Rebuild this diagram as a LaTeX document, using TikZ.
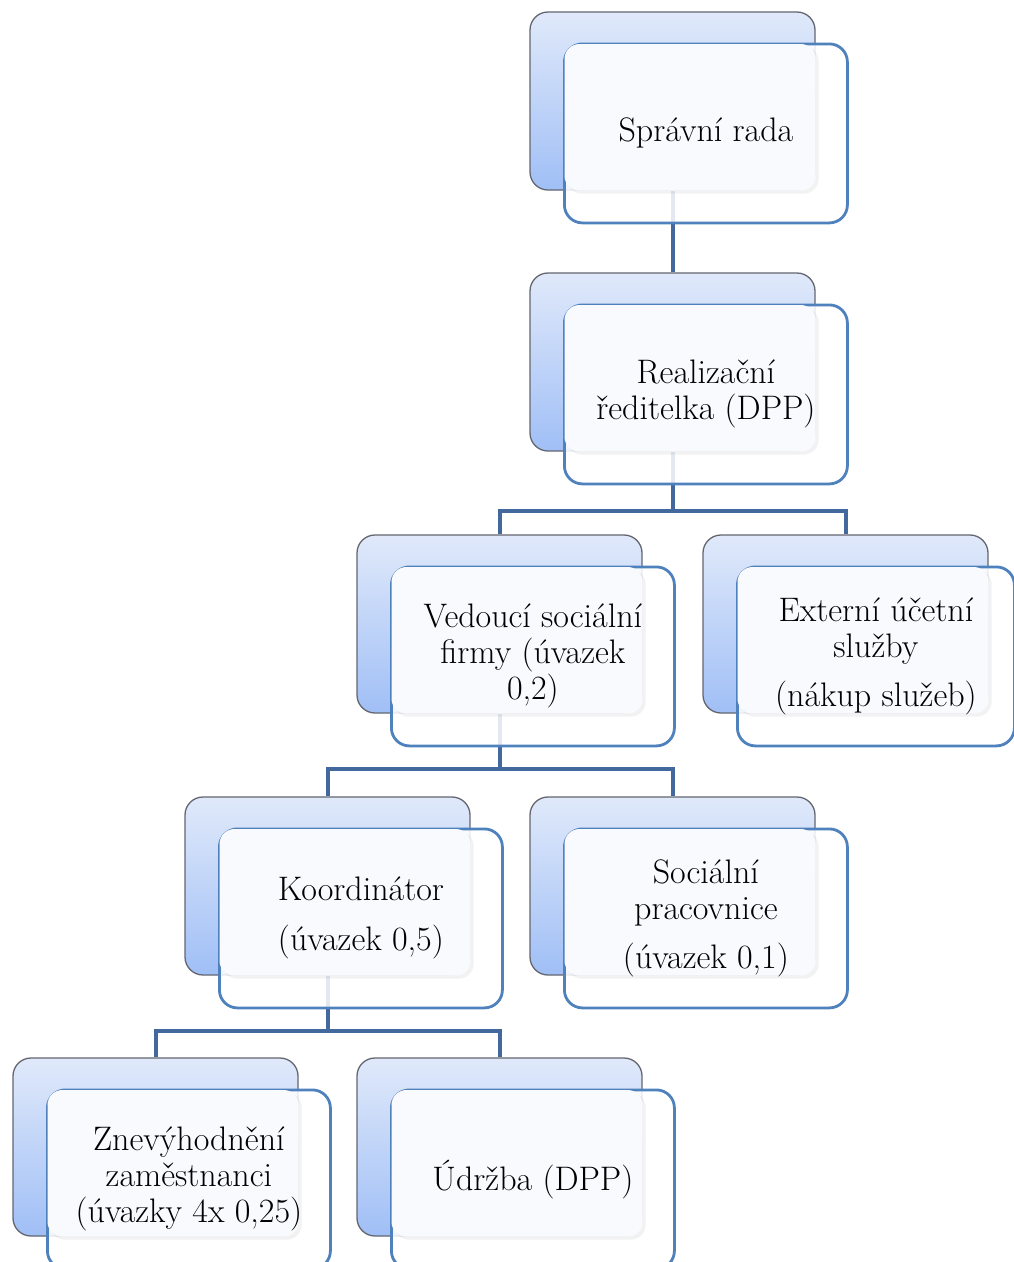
\documentclass[tikz,border=0pt]{standalone}
\usepackage{fontspec}
\pgfdeclarelayer{bg}
\pgfsetlayers{bg,main}
\definecolor{conn}{RGB}{66,104,158}
\definecolor{frontline}{RGB}{79,129,189}
\definecolor{backtop}{RGB}{224,233,250}
\definecolor{backbot}{RGB}{160,191,246}
\definecolor{backline}{RGB}{100,102,112}
\definecolor{panelfill}{RGB}{248,250,254}
\tikzset{
  backbox/.style={rectangle, rounded corners=18pt, minimum width=285, minimum height=178,
    top color=backtop, bottom color=backbot, draw=backline, line width=1.3pt, inner sep=0pt},
  frontbox/.style={rectangle, rounded corners=18pt, minimum height=179,
    fill=white, fill opacity=0.86, draw=frontline, draw opacity=1, line width=2.8pt, inner sep=0pt, anchor=north west},
  panel/.style={fill=panelfill, rounded corners=15pt},
  panelshadow/.style={fill=black, opacity=0.05, rounded corners=15pt},
  txt/.style={align=center, font=\fontsize{34}{36}\selectfont, text=black, inner sep=0pt},
  connector/.style={draw=conn, line width=4pt}
}
% #1 name, #2 x, #3 y of back box top-left, #4 front width, #5 text
\newcommand\orgunit[5]{%
  \node[backbox] (#1b) at (#2+142.5,#3+89) {};
  \node[frontbox, minimum width=#4] (#1) at (#2+33,#3+30.5) {};
  \fill[panelshadow] ([shift={(4,4)}]#1.north west) rectangle ([shift={(3,3)}]#1b.south east);
  \fill[panel] ([shift={(1.5,1.5)}]#1.north west) rectangle (#1b.south east);
  \node[txt] (#1t) at (#1.center) {#5};
}
\begin{document}
\begin{tikzpicture}[x=1pt,y=-1pt]
\useasboundingbox (0,0) rectangle (1014,1262);
\orgunit{sr}{530}{12}{283}{Správní rada}
\orgunit{rr}{530}{273}{283}{Realizační\\ředitelka (DPP)}
\orgunit{vs}{357}{535}{283}{Vedoucí sociální\\firmy (úvazek\\0,2)}
\orgunit{ex}{703}{535}{277}{Externí účetní\\služby\\[13pt](nákup služeb)}
\orgunit{ko}{185}{797}{283}{Koordinátor\\[14pt](úvazek 0,5)}
\orgunit{sp}{530}{797}{283}{Sociální\\pracovnice\\[13pt](úvazek 0,1)}
\orgunit{zn}{13}{1058}{283}{Znevýhodnění\\zaměstnanci\\(úvazky 4x 0,25)}
\orgunit{ud}{357}{1058}{283}{Údržba (DPP)}
\begin{pgfonlayer}{bg}
  \draw[connector] (srb.south) -- (rrb.north);
  \path (rrb.south) ++(0,59) coordinate (j1);
  \path (vsb.south) ++(0,55) coordinate (j2);
  \path (kob.south) ++(0,55) coordinate (j3);
  \draw[connector] (rrb.south) -- (j1) -| (vsb.north);
  \draw[connector] (j1) -| (exb.north);
  \draw[connector] (vsb.south) -- (j2) -| (kob.north);
  \draw[connector] (j2) -| (spb.north);
  \draw[connector] (kob.south) -- (j3) -| (znb.north);
  \draw[connector] (j3) -| (udb.north);
\end{pgfonlayer}
\end{tikzpicture}
\end{document}
